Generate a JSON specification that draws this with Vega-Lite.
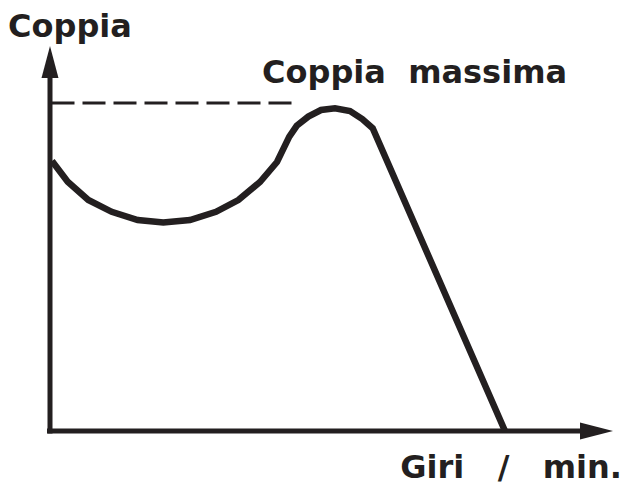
{
  "$schema": "https://vega.github.io/schema/vega-lite/v6.json",
  "width": 625,
  "height": 486,
  "autosize": {"type": "fit", "contains": "padding"},
  "padding": 0,
  "background": "white",
  "config": {"view": {"stroke": null}},
  "datasets": {
    "curve": [
      {"i": 0, "rpm": 0.4, "torque": 67.5},
      {"i": 1, "rpm": 3.54, "torque": 62.3},
      {"i": 2, "rpm": 7.66, "torque": 57.75},
      {"i": 3, "rpm": 12.34, "torque": 54.8},
      {"i": 4, "rpm": 17.54, "torque": 52.75},
      {"i": 5, "rpm": 22.66, "torque": 52.1},
      {"i": 6, "rpm": 28.0, "torque": 52.75},
      {"i": 7, "rpm": 33.2, "torque": 54.8},
      {"i": 8, "rpm": 37.66, "torque": 57.75},
      {"i": 9, "rpm": 42.0, "torque": 62.25},
      {"i": 10, "rpm": 45.4, "torque": 67.25},
      {"i": 11, "rpm": 47.86, "torque": 73.6},
      {"i": 12, "rpm": 49.34, "torque": 76.3},
      {"i": 13, "rpm": 51.66, "torque": 78.6},
      {"i": 14, "rpm": 54.2, "torque": 80.25},
      {"i": 15, "rpm": 57.0, "torque": 80.7},
      {"i": 16, "rpm": 60.0, "torque": 80.0},
      {"i": 17, "rpm": 62.46, "torque": 78.0},
      {"i": 18, "rpm": 64.54, "torque": 75.7},
      {"i": 19, "rpm": 91.0, "torque": 0}
    ],
    "axes": [
      {"x": 0, "x2": 0, "y": -0.6, "y2": 90},
      {"x": -0.6, "x2": 107, "y": 0, "y2": 0}
    ],
    "maxline": [
      {"x": 0.3, "x2": 49, "y": 82}
    ],
    "arrows": [
      {"x": 109.3, "y": 0, "dir": "right"},
      {"x": 0, "y": 92.25, "dir": "up"}
    ],
    "labels": [
      {"label": "Coppia", "x": -8.4, "y": 98.5, "align": "left"},
      {"label": "Coppia\u00a0\u00a0massima", "x": 42.4, "y": 87, "align": "left"},
      {"label": "Giri\u00a0\u00a0\u00a0/\u00a0\u00a0\u00a0min.", "x": 114.4, "y": -11.75, "align": "right"}
    ]
  },
  "layer": [
    {
      "data": {"name": "axes"},
      "mark": {"type": "rule", "color": "#231f20", "strokeWidth": 5, "strokeCap": "butt"},
      "encoding": {
        "x": {"field": "x", "type": "quantitative", "scale": {"domain": [-10, 115], "nice": false, "zero": false}, "axis": null},
        "x2": {"field": "x2"},
        "y": {"field": "y", "type": "quantitative", "scale": {"domain": [-13.75, 107.75], "nice": false, "zero": false}, "axis": null},
        "y2": {"field": "y2"}
      }
    },
    {
      "data": {"name": "maxline"},
      "mark": {"type": "rule", "color": "#231f20", "strokeWidth": 3, "strokeDash": [23, 8], "strokeCap": "butt"},
      "encoding": {
        "x": {"field": "x", "type": "quantitative", "scale": {"domain": [-10, 115], "nice": false, "zero": false}, "axis": null},
        "x2": {"field": "x2"},
        "y": {"field": "y", "type": "quantitative", "scale": {"domain": [-13.75, 107.75], "nice": false, "zero": false}, "axis": null}
      }
    },
    {
      "data": {"name": "curve"},
      "mark": {"type": "line", "color": "#231f20", "strokeWidth": 6.5, "strokeCap": "butt", "strokeJoin": "miter"},
      "encoding": {
        "x": {"field": "rpm", "type": "quantitative", "scale": {"domain": [-10, 115], "nice": false, "zero": false}, "axis": null},
        "y": {"field": "torque", "type": "quantitative", "scale": {"domain": [-13.75, 107.75], "nice": false, "zero": false}, "axis": null},
        "order": {"field": "i", "type": "quantitative"}
      }
    },
    {
      "data": {"name": "arrows"},
      "transform": [{"filter": "datum.dir === 'right'"}],
      "mark": {"type": "point", "shape": "M -1 -0.515 L 1 0 L -1 0.515 Z", "size": 1089, "filled": true, "opacity": 1, "color": "#231f20", "strokeWidth": 0},
      "encoding": {
        "x": {"field": "x", "type": "quantitative", "scale": {"domain": [-10, 115], "nice": false, "zero": false}, "axis": null},
        "y": {"field": "y", "type": "quantitative", "scale": {"domain": [-13.75, 107.75], "nice": false, "zero": false}, "axis": null}
      }
    },
    {
      "data": {"name": "arrows"},
      "transform": [{"filter": "datum.dir === 'up'"}],
      "mark": {"type": "point", "shape": "M -0.53 1 L 0 -1 L 0.53 1 Z", "size": 1024, "filled": true, "opacity": 1, "color": "#231f20", "strokeWidth": 0},
      "encoding": {
        "x": {"field": "x", "type": "quantitative", "scale": {"domain": [-10, 115], "nice": false, "zero": false}, "axis": null},
        "y": {"field": "y", "type": "quantitative", "scale": {"domain": [-13.75, 107.75], "nice": false, "zero": false}, "axis": null}
      }
    },
    {
      "data": {"name": "labels"},
      "transform": [{"filter": "datum.align === 'left'"}],
      "mark": {"type": "text", "align": "left", "baseline": "alphabetic", "font": "DejaVu Sans", "fontWeight": "bold", "fontSize": 32, "color": "#231f20"},
      "encoding": {
        "x": {"field": "x", "type": "quantitative", "scale": {"domain": [-10, 115], "nice": false, "zero": false}, "axis": null},
        "y": {"field": "y", "type": "quantitative", "scale": {"domain": [-13.75, 107.75], "nice": false, "zero": false}, "axis": null},
        "text": {"field": "label"}
      }
    },
    {
      "data": {"name": "labels"},
      "transform": [{"filter": "datum.align === 'right'"}],
      "mark": {"type": "text", "align": "right", "baseline": "alphabetic", "font": "DejaVu Sans", "fontWeight": "bold", "fontSize": 32, "color": "#231f20"},
      "encoding": {
        "x": {"field": "x", "type": "quantitative", "scale": {"domain": [-10, 115], "nice": false, "zero": false}, "axis": null},
        "y": {"field": "y", "type": "quantitative", "scale": {"domain": [-13.75, 107.75], "nice": false, "zero": false}, "axis": null},
        "text": {"field": "label"}
      }
    }
  ]
}
